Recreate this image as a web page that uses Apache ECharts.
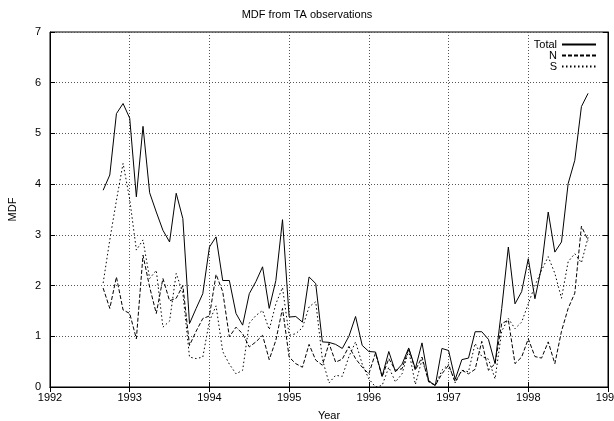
<!DOCTYPE html>
<html>
<head>
<meta charset="utf-8">
<script src="https://cdn.jsdelivr.net/npm/echarts@6/dist/echarts.min.js"></script>
<style>
  html, body { margin: 0; padding: 0; background: #fff; }
  #chart { width: 614px; height: 421px; }
</style>
</head>
<body>
<div id="chart"></div>
<script>
// monthly samples, first one is Sept 1992
const startYear = 1992
const startMonth = 9

const totalVals = [
  3.88, 4.18, 5.39, 5.59, 5.30, 3.75, 5.14, 3.83, 3.45, 3.09, 2.86, 3.82,
  3.32, 1.25, 1.55, 1.84, 2.76, 2.96, 2.10, 2.10, 1.45, 1.22, 1.84, 2.08,
  2.37, 1.55, 2.10, 3.30, 1.38, 1.39, 1.28, 2.17, 2.04, 0.89, 0.88, 0.84,
  0.76, 1.00, 1.39, 0.82, 0.70, 0.69, 0.21, 0.70, 0.30, 0.45, 0.77, 0.36,
  0.87, 0.12, 0.03, 0.76, 0.72, 0.15, 0.54, 0.57, 1.09, 1.09, 0.94, 0.46,
  1.55, 2.76, 1.64, 1.88, 2.53, 1.74, 2.37, 3.45, 2.66, 2.86, 4.01, 4.47,
  5.53, 5.79
]
const nVals = [
  1.95, 1.55, 2.17, 1.52, 1.45, 0.95, 2.60, 1.97, 1.45, 2.14, 1.70, 1.75,
  2.00, 0.82, 1.10, 1.35, 1.40, 2.22, 1.88, 0.99, 1.18, 1.05, 0.79, 0.89,
  1.02, 0.54, 0.92, 1.55, 0.59, 0.46, 0.39, 0.84, 0.53, 0.43, 0.86, 0.49,
  0.55, 0.80, 0.56, 0.39, 0.26, 0.67, 0.20, 0.56, 0.33, 0.36, 0.76, 0.33,
  0.59, 0.10, 0.03, 0.26, 0.43, 0.10, 0.33, 0.26, 0.35, 0.90, 0.33, 0.46,
  1.25, 1.32, 0.46, 0.59, 0.95, 0.60, 0.57, 0.89, 0.46, 1.10, 1.55, 1.85,
  3.17, 2.89
]
const sVals = [
  2.05, 2.90, 3.68, 4.41, 3.70, 2.70, 2.90, 2.14, 2.30, 1.18, 1.30, 2.24,
  1.85, 0.59, 0.56, 0.59, 1.30, 1.60, 0.70, 0.45, 0.26, 0.33, 1.26, 1.41,
  1.51, 1.13, 1.64, 1.96, 1.02, 1.05, 1.17, 1.58, 1.68, 0.55, 0.08, 0.23,
  0.21, 0.60, 0.89, 0.45, 0.16, 0.00, 0.03, 0.39, 0.10, 0.26, 0.72, 0.05,
  0.54, 0.13, 0.03, 0.33, 0.45, 0.08, 0.33, 0.30, 0.86, 0.60, 0.55, 0.16,
  1.10, 1.35, 1.15, 1.28, 1.64, 2.00, 2.30, 2.57, 2.24, 1.75, 2.47, 2.63,
  2.45, 2.95
]

const seriesNames = ['Total', 'N', 'S']

// decimal year for each sample
function withYears (vals) {
  return vals.map(function (v, i) {
    return [startYear + (startMonth - 1 + i) / 12, v]
  })
}

const chart = echarts.init(document.getElementById('chart'))

const font = 'Liberation Sans, Arial, sans-serif'
const gridLine = { lineStyle: { color: '#555', type: [1, 2], width: 1 } }

const option = {
  animation: false,
  title: {
    text: 'MDF from TA observations',
    left: 'center',
    top: 4,
    textStyle: { fontFamily: font, fontSize: 11, fontWeight: 'normal', color: '#000' }
  },
  legend: {
    data: seriesNames,
    orient: 'vertical',
    right: 12,
    top: 34,
    align: 'right',
    itemWidth: 34,
    itemHeight: 8,
    itemGap: 0,
    // line only, no marker in the key
    itemStyle: { color: 'rgba(0,0,0,0)', borderWidth: 0, opacity: 0 },
    textStyle: { fontFamily: font, fontSize: 11, lineHeight: 11, color: '#000' }
  },
  grid: {
    left: 50,
    right: 6,
    top: 32,
    bottom: 34,
    outerBoundsMode: 'none',
    show: true,
    borderColor: '#000',
    borderWidth: 1
  },
  xAxis: [
    {
      type: 'value',
      min: 1992,
      max: 1999,
      interval: 1,
      name: 'Year',
      nameLocation: 'middle',
      nameGap: 23,
      nameTextStyle: { fontFamily: font, fontSize: 11, color: '#000' },
      axisLine: { lineStyle: { color: '#000' } },
      axisTick: { inside: true, length: 5, lineStyle: { color: '#000' } },
      axisLabel: {
        fontFamily: font,
        fontSize: 11,
        color: '#000',
        margin: 5,
        formatter: function (v) { return String(v) }
      },
      splitLine: gridLine
    },
    {
      type: 'value',
      position: 'top',
      min: 1992,
      max: 1999,
      interval: 1,
      axisLine: { lineStyle: { color: '#000' } },
      axisTick: { inside: true, length: 5, lineStyle: { color: '#000' } },
      axisLabel: { show: false },
      splitLine: { show: false }
    }
  ],
  yAxis: [
    {
      type: 'value',
      min: 0,
      max: 7,
      interval: 1,
      name: 'MDF',
      nameLocation: 'middle',
      nameGap: 32,
      nameTextStyle: { fontFamily: font, fontSize: 11, color: '#000' },
      axisLine: { show: true, lineStyle: { color: '#000' } },
      axisTick: { show: true, inside: true, length: 5, lineStyle: { color: '#000' } },
      axisLabel: { fontFamily: font, fontSize: 11, color: '#000', margin: 9 },
      splitLine: gridLine
    },
    {
      type: 'value',
      position: 'right',
      min: 0,
      max: 7,
      interval: 1,
      axisLine: { show: true, lineStyle: { color: '#000' } },
      axisTick: { show: true, inside: true, length: 5, lineStyle: { color: '#000' } },
      axisLabel: { show: false },
      splitLine: { show: false }
    }
  ],
  series: [
    {
      name: 'Total',
      type: 'line',
      symbol: 'none',
      lineStyle: { color: '#000', width: 1, type: 'solid' },
      itemStyle: { color: '#000' },
      data: withYears(totalVals)
    },
    {
      name: 'N',
      type: 'line',
      symbol: 'none',
      lineStyle: { color: '#000', width: 1, type: [4, 2] },
      itemStyle: { color: '#000' },
      data: withYears(nVals)
    },
    {
      name: 'S',
      type: 'line',
      symbol: 'none',
      lineStyle: { color: '#000', width: 1, type: [1.5, 2.5] },
      itemStyle: { color: '#000' },
      data: withYears(sVals)
    }
  ]
}

chart.setOption(option)
</script>
</body>
</html>
